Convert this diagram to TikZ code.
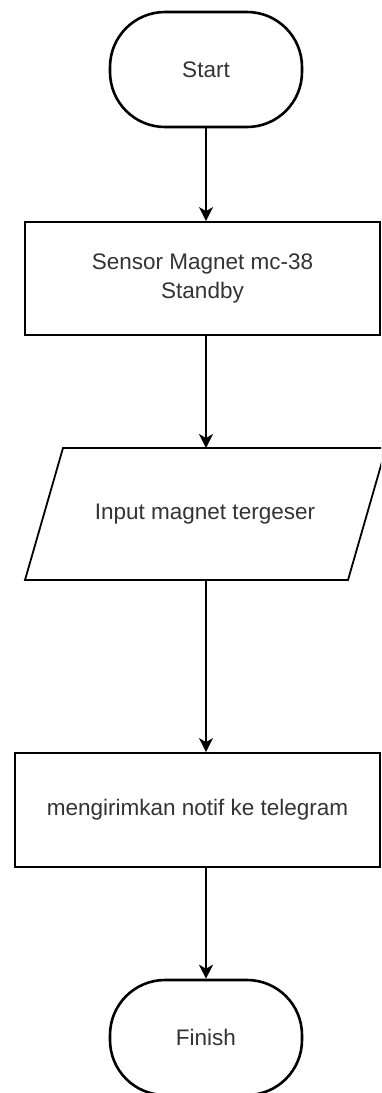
\documentclass[tikz,border=0pt]{standalone}
\usepackage{fontspec}
\setmainfont{Liberation Sans}
\usetikzlibrary{arrows.meta,calc}
\begin{document}
\begin{tikzpicture}[x=1pt,y=-1pt,
  txt/.style={text=black!80, font=\fontsize{22.5}{29}\selectfont, align=center},
  term/.style={txt, draw=black, line width=2.6pt, rectangle, rounded corners=55pt, minimum width=192pt, minimum height=115pt, inner sep=0pt},
  procbox/.style={txt, draw=black, line width=1.8pt, rectangle, inner sep=0pt},
  flow/.style={draw=black, line width=1.8pt, -{Stealth[length=14pt,width=14pt,inset=4pt]}}
]
\useasboundingbox (0,0) rectangle (381,1093);
\clip (0,0) rectangle (381,1093);
\fill[white] (0,0) rectangle (381,1093);

% Start
\node[term] (start) at (206,69.5) {Start};

% Sensor box
\node[procbox, minimum width=355pt, minimum height=113pt] (sensor) at (202.5,278.5) {Sensor Magnet mc-38\\Standby};

% Input parallelogram
\coordinate (ptl) at (63,448);
\coordinate (ptr) at (386,448);
\coordinate (pbr) at (348,580);
\coordinate (pbl) at (25,580);
\draw[line width=1.8pt, line join=miter] (ptl) -- (ptr) -- (pbr) -- (pbl) -- cycle;
\node[txt, minimum width=280pt, minimum height=132pt, inner sep=0pt] (input) at (205,514) {Input magnet tergeser};

% Notification box
\node[procbox, minimum width=365pt, minimum height=114pt] (notif) at (197.5,810) {mengirimkan notif ke telegram};

% Finish
\node[term] (finish) at (206,1037.5) {Finish};

% connectors
\draw[flow] (start.south) -- (start.south |- sensor.north);
\draw[flow] (start.south |- sensor.south) -- (start.south |- ptl);
\draw[flow] (start.south |- pbl) -- (start.south |- notif.north);
\draw[flow] (start.south |- notif.south) -- (finish.north);
\end{tikzpicture}
\end{document}
